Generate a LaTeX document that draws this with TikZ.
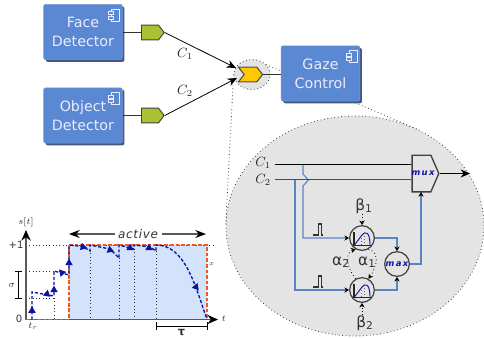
\documentclass[tikz,border=0pt]{standalone}
\usepackage{fontspec}
\setmainfont{DejaVu Sans}
\usetikzlibrary{arrows.meta,shapes.geometric,shapes.symbols,shadows}
\definecolor{boxblue}{HTML}{5B88D2}
\definecolor{wireblue}{HTML}{5A84C4}
\definecolor{portgreen}{HTML}{A9C132}
\definecolor{portyellow}{HTML}{FFC800}
\definecolor{zoomgrey}{HTML}{E4E4E4}
\definecolor{areablue}{HTML}{D2E3FB}
\definecolor{traceblue}{HTML}{0A14A0}
\definecolor{limitorange}{HTML}{F2581A}
\tikzset{
  comp/.style={rectangle, rounded corners=1.5pt, fill=boxblue, draw=boxblue!85!white, minimum width=59pt, minimum height=41.5pt,
    text=white!92!blue, align=center, inner sep=0pt, font=\fontsize{10.7}{14}\selectfont,
    drop shadow={shadow xshift=1.6pt, shadow yshift=-1.6pt, fill=black!40!boxblue!85!gray, opacity=1}},
  compicon/.style={draw=white!92!blue, line width=0.55pt},
  port/.style={signal, signal to=east, signal pointer angle=105, draw=black!75, line width=0.7pt, fill=portgreen, minimum width=17pt, minimum height=11pt, inner sep=0pt},
  spot/.style={signal, signal from=west, signal to=east, signal pointer angle=105, draw=black!70, line width=0.8pt, fill=portyellow, minimum width=18pt, minimum height=11pt, inner sep=0pt},
  zoomarea/.style={ellipse, draw=black!75, dotted, line width=0.6pt, fill=zoomgrey, inner sep=0pt},
  unit/.style={circle, draw=black!75, line width=0.9pt, fill=zoomgrey, minimum size=18.5pt, inner sep=0pt},
  conn/.style={draw=black, line width=0.6pt, -{Stealth[length=7pt,width=6pt]}},
  plain/.style={draw=black!80, line width=0.8pt},
  wire/.style={draw=wireblue, line width=0.85pt},
  wirein/.style={wire, -{Stealth[length=3.5pt,width=4pt,color=black]}},
  gain/.style={draw=black, dotted, line width=0.6pt, -{Stealth[length=3.5pt,width=4pt]}},
  pulse/.style={draw=black!80, line width=0.8pt},
  lbl/.style={inner sep=0pt, text=black!80},
  greek/.style={lbl, font=\fontsize{11.5}{13}\selectfont},
  cname/.style={lbl, text=black!85, font=\fontsize{10}{12}\selectfont},
  axisname/.style={lbl, font=\fontsize{7.5}{8}\selectfont},
  trace/.style={draw=traceblue, line width=1pt, dash pattern=on 2.4pt off 1.4pt},
  limit/.style={draw=limitorange, line width=1.2pt, dash pattern=on 2.8pt off 1.4pt},
  guide/.style={draw=black!80, dotted, line width=0.5pt},
  axis/.style={draw=black!65, line width=1pt, -{Stealth[length=8pt,width=7pt,color=black]}},
  span/.style={draw=black!65, line width=1pt, -{Stealth[length=8pt,width=6pt,color=black]}},
  tick/.style={draw=black, line width=0.7pt},
  tipmark/.style={regular polygon, regular polygon sides=3, fill=traceblue, inner sep=0pt, minimum size=6.5pt},
  blocktext/.style={lbl, text=traceblue, font=\fontsize{6.3}{7}\selectfont\bfseries\itshape}
}
\begin{document}
\begin{tikzpicture}[x=0.75pt, y=-0.75pt]
\useasboundingbox (0,0) rectangle (484,337);

% Zoom areas
\node[zoomarea, minimum width=193.5pt, minimum height=165pt] at (355, 226) (zoom) {};
\node[zoomarea, minimum width=27pt, minimum height=22.5pt] at (252, 74.5) (halo) {};
\draw[black!75, dotted, line width=0.6pt] (halo.west) -- (zoom.west);
\draw[black!75, dotted, line width=0.6pt] (halo.35) -- (zoom.57);

% Components
\node[comp] at (83, 32) (face) {Face\\Detector};
\node[comp] at (83, 115.5) (object) {Object\\Detector};
\node[comp] at (320.5, 73.5) (gaze) {Gaze\\Control};

\foreach \n in {face, object, gaze} {
  \begin{scope}[shift={(\n.north east)}]
    \draw[compicon] (-11, 5) rectangle (-3, 17);
    \draw[compicon, fill=boxblue] (-14, 7.5) rectangle (-9, 10.5);
    \draw[compicon, fill=boxblue] (-14, 12) rectangle (-9, 15);
  \end{scope}
}

% Ports
\node[port] at (150, 32.5) (portface) {};
\node[port] at (150, 115.5) (portobject) {};
\node[spot] at (250.5, 74.5) (portgaze) {};
\coordinate (endface) at (236, 68);
\coordinate (endobject) at (237, 78);

\draw[plain] (face.east |- portface.west) -- (portface.west);
\draw[plain] (object.east |- portobject.west) -- (portobject.west);
\draw[plain] (portgaze.east) -- (gaze.west |- portgaze.east);
\draw[conn] (portface.east) -- (endface);
\draw[conn] (portobject.east) -- (endobject);
\node[cname] at (185, 54) (labelface) {$C_1$};
\node[cname] at (185, 91) (labelobject) {$C_2$};

% Gaze control internals
\node[cname] at (263, 163) (inone) {$C_1$};
\node[cname] at (263, 180) (intwo) {$C_2$};
\node[signal, signal to=east, signal pointer angle=133, draw=black!75, line width=1pt, fill=zoomgrey, minimum width=20pt, minimum height=27.5pt, inner sep=0pt] at (421.5, 173.5) (mux) {};
\node[blocktext] at (423, 173.5) (muxtext) {m\,u\,x};
\node[unit] at (362, 238) (unitone) {};
\node[unit] at (362, 290) (unittwo) {};
\node[unit] at (397, 264) (maxunit) {};
\node[blocktext] at (397, 264) (maxtext) {m\,a\,x};
\coordinate (muxone) at (411, 164.5);
\coordinate (muxtwo) at (411, 179.5);
\coordinate (startone) at (275, 164.5);
\coordinate (starttwo) at (275, 179.5);
\coordinate (splitone) at (303, 164.5);
\coordinate (splittwo) at (295, 179.5);
\coordinate (outmux) at (470, 173.5);

\draw[wirein] (splitone) -- (303, 174) -- (308.5, 180) -- (303, 186) -- (303, 238) -- (unitone.west);
\draw[wirein] (splittwo) -- (295, 290) -- (unittwo.west);
\draw[wirein] (unitone.east) -- (397, 238) -- (maxunit.north);
\draw[wirein] (unittwo.east) -- (397, 290) -- (maxunit.south);
\draw[wirein] (maxunit.east) -- (421, 264) -- (421, 192);
\draw[draw=black, line width=0.8pt] (startone) -- (muxone);
\draw[draw=black!70, line width=0.9pt] (starttwo) -- (muxtwo);
\draw[conn] (mux.east) -- (outmux);

\foreach \u in {unitone, unittwo} {
  \begin{scope}[shift={(\u)}]
    \draw[black!60, dotted, line width=0.4pt] (-1, 0) -- (-1, 7.5) (2, -2) -- (2, 7.5);
    \draw[traceblue, line width=0.7pt] (-8, 7.5) -- (-3, 1) -- (0, -3) .. controls (3, -7) and (8, -7) .. (8, 7.5);
    \draw[black!85, line width=0.8pt] (-8, -6) -- (-8, 7.5) -- (9, 7.5);
  \end{scope}
}

% Pulses
\foreach \py in {235, 287} {
  \draw[pulse] (313, \py) -- (318.5, \py) -- (318.5, \py-11) -- (321.5, \py-11) -- (321.5, \py) -- (323, \py);
}

% Gains
\node[greek] at (364, 206) (betaone) {β\textsubscript{1}};
\node[greek] at (365, 323) (betatwo) {β\textsubscript{2}};
\node[greek] at (341, 262) (alphatwo) {α\textsubscript{2}};
\node[greek] at (367, 262) (alphaone) {α\textsubscript{1}};
\draw[gain] (betaone.south) ++(-2, 0) -- (unitone.north);
\draw[gain] (betatwo.north) ++(-3, 0) -- (unittwo.south);
\draw[gain] (unittwo.120) .. controls (345, 265) and (346, 252) .. (unitone.240);
\draw[gain] (unitone.-60) .. controls (379, 252) and (378, 265) .. (unittwo.60);

% Activation plot
\coordinate (origin) at (26, 319.5);
\coordinate (ytop) at (26, 230);
\coordinate (xend) at (218, 319.5);
\coordinate (riseleft) at (69, 319.5);
\coordinate (riseright) at (207, 319.5);
\coordinate (topleft) at (69, 245);
\coordinate (topright) at (207, 245);

\fill[areablue] (topleft) rectangle (riseright);
\draw[guide] (26, 245) -- (216, 245);
\draw[guide] (26, 271.7) -- (62, 271.7);
\draw[guide] (26, 298) -- (54, 298);
\draw[guide] (54, 298) -- (54, 319.5);
\foreach \gx/\gy in {90/250, 119/258, 134/249, 156/251} {
  \draw[guide] (\gx, \gy) -- (\gx, 319.5);
}
\draw[axis] (origin) -- (ytop);
\draw[axis] (origin) -- (xend);
\draw[limit] (origin) -- (riseleft) -- (topleft) -- (topright) -- (riseright);
\draw[trace] (32, 319.5) -- (32, 292) -- (54, 296) -- (54, 271) -- (69, 275) -- (69, 245)
  -- (83, 246.5) -- (90, 251) -- (90, 245) -- (110, 249) -- (119, 258) -- (119, 245)
  -- (134, 249) -- (134, 245) -- (150, 247) -- (156, 251) -- (156, 245)
  .. controls (185, 245) and (195, 285) .. (207, 319.5);
\foreach \mx/\my/\ma in {32/310.6/0, 47/294/-10, 54/290/0, 62/272.7/-80, 69/263/0, 83/247/15, 110/250/10, 130/248/0, 149/248/0, 196/287/-20} {
  \node[tipmark, rotate=\ma] at (\mx, \my) (tip\mx) {};
}
\node[axisname] at (26, 222) (labels) {$s[t]$};
\node[axisname] at (224, 319) (labelt) {$t$};
\node[axisname, font=\fontsize{7.5}{8}\selectfont\rmfamily] at (16, 245) (labelone) {+1};
\node[axisname, font=\fontsize{7.5}{8}\selectfont\rmfamily] at (19, 319) (labelzero) {0};
\node[axisname] at (33, 326) (labeltr) {$t_r$};
\node[axisname] at (12, 285) (labelsigma) {$\sigma$};
\node[lbl, font=\fontsize{3.5}{4}\selectfont] at (211.5, 264) (labelx) {$x$};
\node[lbl, font=\fontsize{9}{10}\selectfont] at (138, 234) (labelactive) {$\mathit{a\mkern1mu c\mkern1mu t\mkern1mu i\mkern1mu v\mkern1mu e}$};
\node[lbl, font=\fontsize{8.5}{9}\selectfont\bfseries] at (181.5, 332) (labeltau) {τ};
\draw[span] (labelactive.west) ++(-3, 0) -- (69, 234);
\draw[span] (labelactive.east) ++(4, 0) -- (206, 234);
\draw[tick] (18, 271.7) -- (18, 298) (15, 271.7) -- (22, 271.7) (15, 298) -- (22, 298);
\draw[tick] (156, 326) -- (207, 326) (156, 322) -- (156, 330) (207, 322) -- (207, 330);
\end{tikzpicture}
\end{document}
